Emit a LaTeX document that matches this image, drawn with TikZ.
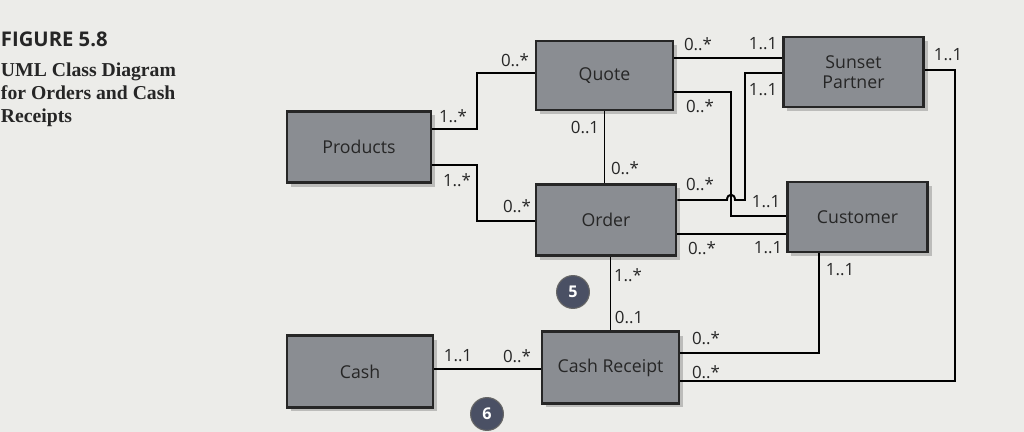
\documentclass[tikz,border=0pt]{standalone}
\usepackage{fontspec}
\setmainfont{Liberation Serif}
\setsansfont{Open Sans}
\usetikzlibrary{shadows}
\definecolor{paper}{RGB}{236,236,233}
\definecolor{boxgray}{RGB}{138,141,146}
\definecolor{badgeblue}{RGB}{74,80,100}

\begin{document}
\begin{tikzpicture}[x=0.025cm, y=-0.025cm, line width=1.4pt,
    every node/.style={font=\sffamily\fontsize{12}{14}\selectfont, text=black!85},
    box/.style={draw=black!85, line width=2pt, fill=boxgray, minimum width=3.5cm, minimum height=1.78cm, align=center,
        font=\sffamily\fontsize{12.6}{14.6}\selectfont, drop shadow={shadow xshift=0.1cm, shadow yshift=-0.1cm, opacity=0.2, fill=black}},
    badge/.style={circle, fill=badgeblue, draw=black!60, line width=0.8pt, text=white, minimum size=0.82cm, inner sep=0pt,
        font=\sffamily\bfseries\fontsize{11.5}{13}\selectfont}]
        % Page
        \fill[paper] (0,0) rectangle (1024,432);
        \useasboundingbox (0,0) rectangle (1024,432);

        % Caption
        \node[anchor=base west, inner sep=0pt, font=\sffamily\bfseries\fontsize{14.4}{16}\selectfont] (fig) at (0,47) {FIGURE 5.8};
        \node[anchor=north west, inner sep=0pt, align=left, font=\rmfamily\bfseries\fontsize{14}{16.4}\selectfont] (title) at (0,62) {UML Class Diagram\\for Orders and Cash\\Receipts};

        % Classes
        \node[box, minimum width=3.6cm] (prod) at (359,147) {Products};
        \node[box, minimum width=3.42cm, minimum height=1.72cm] (quote) at (604.5,75.5) {Quote};
        \node[box, minimum height=1.75cm] (sunset) at (853.5,72) {Sunset\\Partner};
        \node[box] (order) at (606,220) {Order};
        \node[box, minimum height=1.75cm] (cust) at (857.5,217) {Customer};
        \node[box, minimum width=3.65cm] (cash) at (360,371.5) {Cash};
        \node[box, minimum width=3.42cm] (receipt) at (610.5,367.5) {Cash Receipt};

        % Products - Quote / Order
        \draw (prod.east |- 0,129) -| (477,73) -- (quote.west |- 0,73);
        \node (m1) at (453,116) {1..*};
        \node (m2) at (515,60) {0..*};
        \draw (prod.east |- 0,165) -| (477,221) -- (order.west |- 0,221);
        \node (m3) at (457,180) {1..*};
        \node (m4) at (517,206) {0..*};

        % Quote - Sunset Partner
        \draw (quote.east |- 0,58) -- (sunset.west |- 0,58);
        \node (m5) at (698,44) {0..*};
        \node (m6) at (763,44) {1..1};

        % Quote - Customer
        \draw (quote.east |- 0,92) -| (731,216) -- (cust.west |- 0,216);
        \node (m7) at (700,106) {0..*};
        \node (m8) at (766,202) {1..1};

        % Order - Sunset Partner (hops over)
        \draw (order.east |- 0,200) -- (727,200) .. controls (727,193) and (735,193) .. (735,200) -- (745,200) |- (sunset.west |- 0,73);
        \node (m9) at (700,184) {0..*};
        \node (m10) at (763,90) {1..1};

        % Order - Customer
        \draw (order.east |- 0,234) -- (cust.west |- 0,234);
        \node (m11) at (702,248) {0..*};
        \node (m12) at (768,248) {1..1};

        % Quote - Order
        \draw (quote.south) -- (quote.south |- order.north);
        \node (m13) at (585,128) {0..1};
        \node (m14) at (625,168) {0..*};

        % Order - Cash Receipt
        \draw (receipt.north) -- (receipt.north |- order.south);
        \node (m15) at (628,275) {1..*};
        \node (m16) at (629,317) {0..1};

        % Cash - Cash Receipt
        \draw (cash.east |- 0,369) -- (receipt.west |- 0,369);
        \node (m17) at (458,356) {1..1};
        \node (m18) at (517,356) {0..*};

        % Cash Receipt - Customer
        \draw (receipt.east |- 0,353) -| (cust.south -| 819,0);
        \node (m19) at (706,338) {0..*};
        \node (m20) at (840,270) {1..1};

        % Cash Receipt - Sunset Partner
        \draw (receipt.east |- 0,381) -| (955,70) -- (sunset.east |- 0,70);
        \node (m21) at (706,372) {0..*};
        \node (m22) at (948,55) {1..1};

        % Step markers
        \node[badge] (s5) at (573,292) {5};
        \node[badge] (s6) at (487,414) {6};
    \end{tikzpicture}
\end{document}
